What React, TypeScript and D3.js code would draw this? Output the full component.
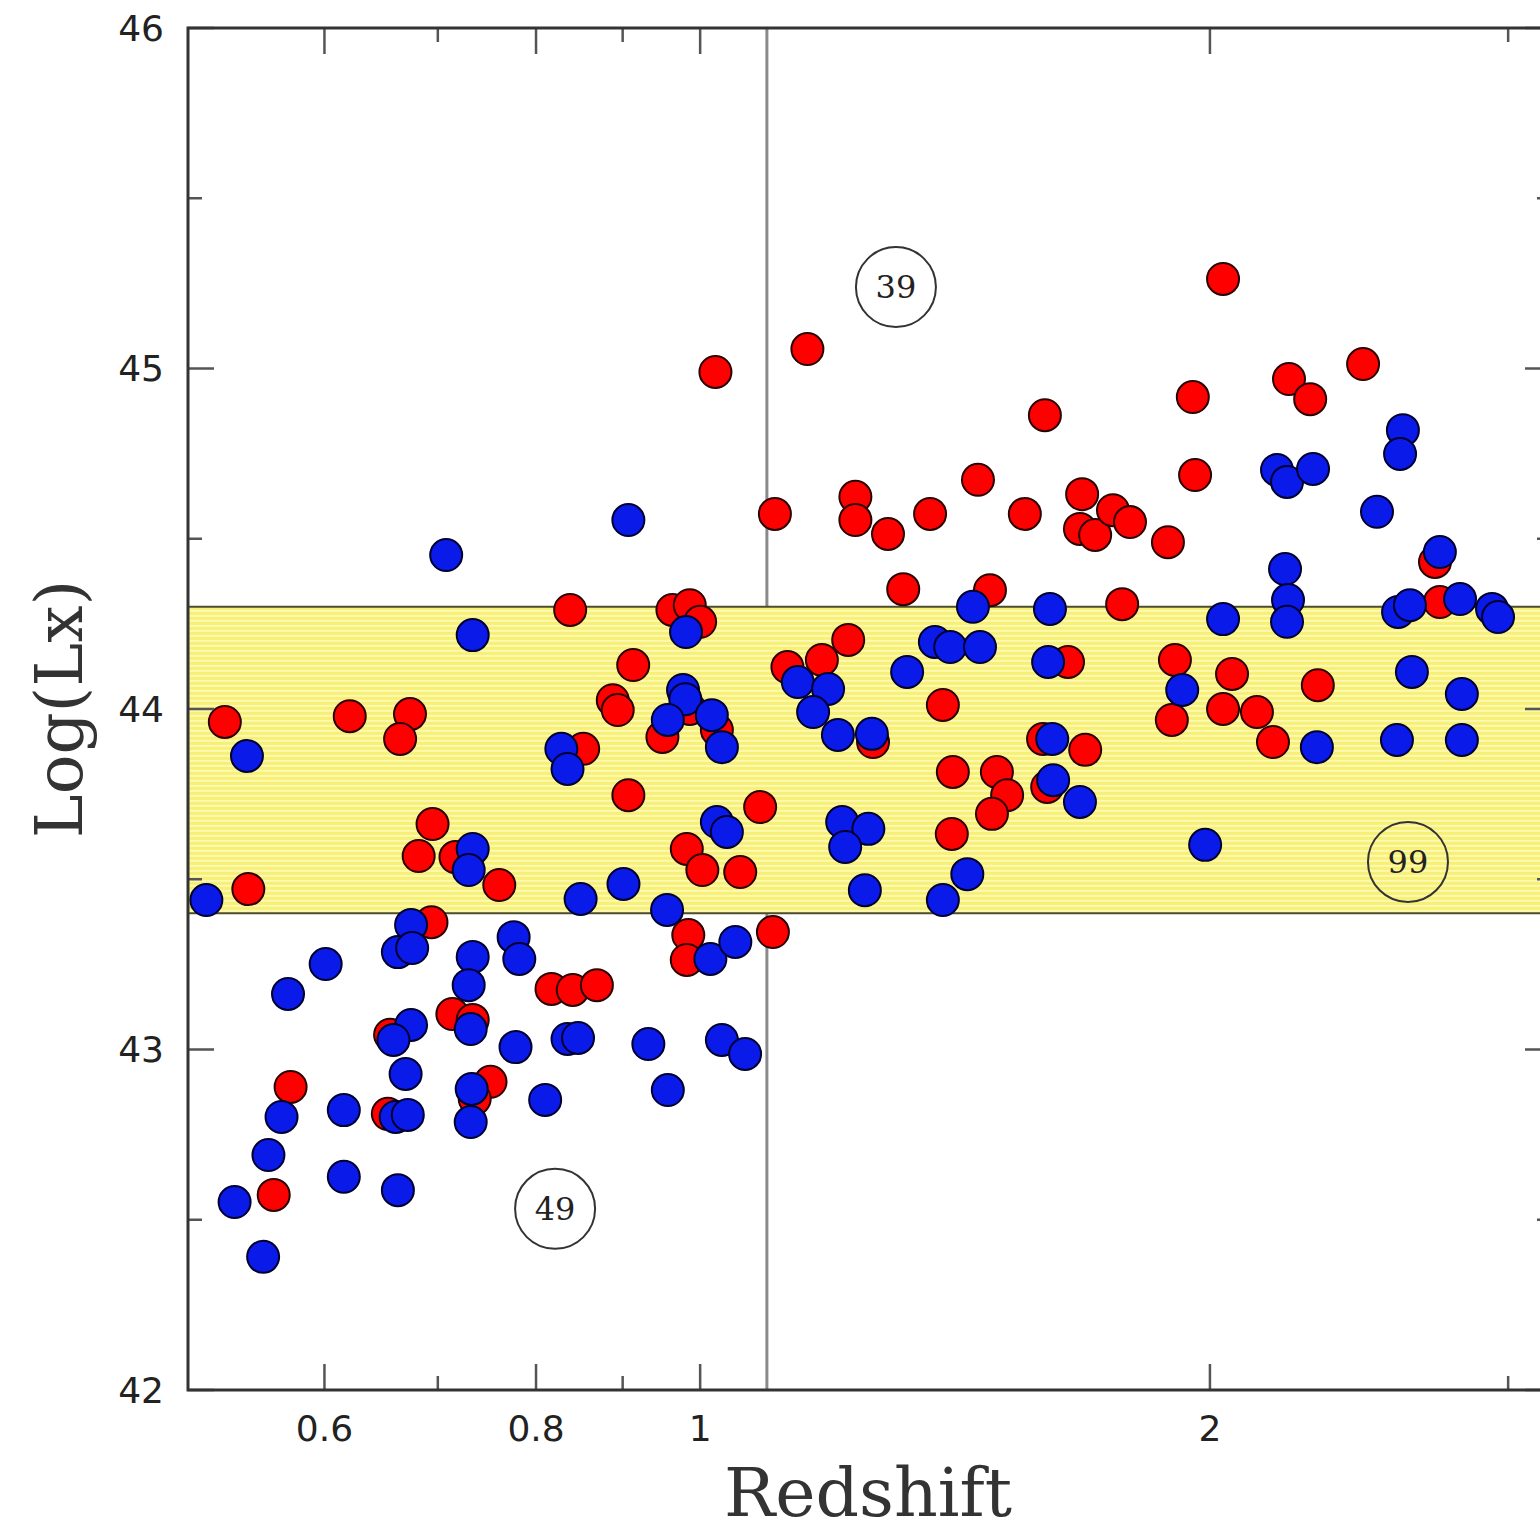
import React from 'react';
import * as d3 from 'd3';

const W = 1540;
const H = 1531;

// [redshift, log(Lx)]
const redPoints: [number, number][] = [
  [0.524, 43.962], [0.541, 43.471], [0.621, 43.979], [0.674, 43.985], [0.665, 43.912],
  [0.695, 43.662], [0.682, 43.568], [0.724, 43.562], [0.761, 43.483], [0.694, 43.374],
  [0.714, 43.104], [0.734, 43.087], [0.656, 43.043], [0.752, 42.905], [0.736, 42.855],
  [0.573, 42.890], [0.654, 42.811], [0.560, 42.573], [0.817, 43.178], [0.841, 43.175],
  [0.869, 43.189], [0.838, 44.291], [0.853, 43.883], [0.913, 44.129], [0.888, 44.026],
  [0.894, 43.997], [0.907, 43.747], [0.963, 44.291], [0.986, 44.305], [1.000, 44.256],
  [0.986, 44.000], [0.950, 43.918], [1.023, 43.938], [0.982, 43.589], [1.003, 43.527],
  [1.056, 43.521], [1.085, 43.712], [0.984, 43.336], [0.982, 43.263], [1.104, 43.345],
  [1.021, 44.990], [1.107, 44.573], [1.157, 45.057], [1.126, 44.123], [1.180, 44.144],
  [1.223, 44.203], [1.235, 44.623], [1.235, 44.555], [1.291, 44.514], [1.367, 44.573],
  [1.459, 44.673], [1.555, 44.573], [1.318, 44.352], [1.483, 44.349], [1.265, 43.903],
  [1.391, 44.012], [1.410, 43.815], [1.497, 43.815], [1.518, 43.747], [1.487, 43.692],
  [1.408, 43.633], [1.598, 44.863], [1.681, 44.631], [1.676, 44.529], [1.711, 44.511],
  [1.753, 44.584], [1.794, 44.549], [1.889, 44.490], [1.775, 44.308], [1.649, 44.138],
  [1.594, 43.912], [1.688, 43.880], [1.603, 43.771], [2.036, 45.263], [1.954, 44.916],
  [1.960, 44.687], [2.227, 44.969], [2.292, 44.910], [2.463, 45.013], [1.907, 44.144],
  [1.899, 43.968], [2.061, 44.103], [2.036, 44.000], [2.132, 43.991], [2.179, 43.903],
  [2.316, 44.070], [2.716, 44.432], [2.734, 44.314], [0.717, 43.565],
];

const bluePoints: [number, number][] = [
  [0.511, 43.439], [0.540, 43.862], [0.708, 44.452], [0.734, 44.217], [0.734, 43.589],
  [0.730, 43.527], [0.675, 43.366], [0.663, 43.286], [0.676, 43.298], [0.601, 43.251],
  [0.571, 43.163], [0.734, 43.272], [0.776, 43.330], [0.782, 43.266], [0.730, 43.189],
  [0.732, 43.060], [0.675, 43.072], [0.659, 43.028], [0.778, 43.007], [0.835, 43.031],
  [0.847, 43.034], [0.670, 42.928], [0.733, 42.884], [0.732, 42.787], [0.810, 42.852],
  [0.566, 42.802], [0.616, 42.822], [0.661, 42.802], [0.672, 42.808], [0.556, 42.690],
  [0.616, 42.626], [0.663, 42.587], [0.531, 42.552], [0.552, 42.391], [0.828, 43.883],
  [0.835, 43.824], [0.907, 44.555], [0.981, 44.226], [0.977, 44.056], [0.980, 44.029],
  [0.957, 43.968], [1.016, 43.982], [1.030, 43.888], [1.023, 43.668], [1.037, 43.639],
  [0.901, 43.486], [0.850, 43.442], [0.956, 43.410], [1.014, 43.266], [1.049, 43.316],
  [0.932, 43.016], [1.030, 43.028], [1.063, 42.987], [0.957, 42.881], [1.142, 44.079],
  [1.190, 44.059], [1.166, 43.991], [1.206, 43.924], [1.263, 43.927], [1.325, 44.109],
  [1.376, 44.197], [1.405, 44.182], [1.463, 44.182], [1.449, 44.300], [1.609, 44.294],
  [1.605, 44.138], [1.614, 43.912], [1.616, 43.791], [1.676, 43.727], [1.213, 43.668],
  [1.257, 43.648], [1.218, 43.595], [1.251, 43.468], [1.438, 43.515], [1.391, 43.439],
  [1.926, 44.056], [2.036, 44.264], [1.987, 43.601], [2.191, 44.702], [2.221, 44.667],
  [2.301, 44.705], [2.215, 44.411], [2.224, 44.320], [2.221, 44.256], [2.313, 43.888],
  [2.600, 44.819], [2.590, 44.749], [2.510, 44.579], [2.734, 44.461], [2.583, 44.285],
  [2.625, 44.305], [2.810, 44.323], [2.935, 44.294], [2.959, 44.270], [2.632, 44.109],
  [2.817, 44.044], [2.579, 43.909], [2.817, 43.909],
];

const xMajorTicks = [0.6, 0.8, 1, 2];
const xMinorTicks = [0.7, 0.9, 3];
const yMajorTicks = [42, 43, 44, 45, 46];
const yMinorTicks = [42.5, 43.5, 44.5, 45.5];

const bandRange: [number, number] = [43.4, 44.3];
const redshiftCut = 1.095;

const annotationLabels = ['39', '49', '99'];
const annotationZ = [1.305, 0.821, 2.618];
const annotationL = [45.239, 42.532, 43.551];

export default function App() {
  const left = 188, right = 1551, top = 28, bottom = 1390;
  const x = d3.scaleLog().domain([0.4984, 3.18]).range([left, right]);
  const y = d3.scaleLinear().domain([42, 46]).range([bottom, top]);

  const majorLen = 26;
  const minorLen = 14;
  const tickColor = '#555';
  const axisColor = '#333';
  const r = 16;

  return (
    <svg width={W} height={H} style={{ position: 'absolute', left: 0, top: 0, display: 'block', background: '#fff' }}>
      <defs>
        <pattern id="stripes" width={10} height={5} patternUnits="userSpaceOnUse" y={y(bandRange[1])}>
          <rect width={10} height={5} fill="#f8f074" />
          <rect y={3} width={10} height={2} fill="#fcf9b4" />
        </pattern>
        <clipPath id="plotclip">
          <rect x={left} y={top} width={right - left} height={bottom - top} />
        </clipPath>
      </defs>
      <rect x={0} y={0} width={W} height={H} fill="#fff" />

      {/* vertical redshift cut */}
      <line x1={x(redshiftCut)} x2={x(redshiftCut)} y1={top} y2={bottom} stroke="#8a8a8a" strokeWidth={3} />

      {/* luminosity band */}
      <rect x={left} y={y(bandRange[1])} width={right - left} height={y(bandRange[0]) - y(bandRange[1])} fill="url(#stripes)" />
      <line x1={left} x2={right} y1={y(bandRange[1])} y2={y(bandRange[1])} stroke="#4d4d30" strokeWidth={2} />
      <line x1={left} x2={right} y1={y(bandRange[0])} y2={y(bandRange[0])} stroke="#4d4d30" strokeWidth={2} />

      {/* annotations */}
      {annotationLabels.map((t, i) => (
        <g key={t}>
          <circle cx={x(annotationZ[i])} cy={y(annotationL[i])} r={40} fill="none" stroke="#333" strokeWidth={2} />
          <text x={x(annotationZ[i])} y={y(annotationL[i])} dy="0.35em" textAnchor="middle"
            fontFamily="DejaVu Serif" fontSize={32} fill="#222">{t}</text>
        </g>
      ))}

      {/* points */}
      <g clipPath="url(#plotclip)">
        {redPoints.map((d, i) => (
          <circle key={'r' + i} cx={x(d[0])} cy={y(d[1])} r={r} fill="#ff0000" stroke="#2a0000" strokeWidth={2} />
        ))}
        {bluePoints.map((d, i) => (
          <circle key={'b' + i} cx={x(d[0])} cy={y(d[1])} r={r} fill="#0a1ae8" stroke="#000030" strokeWidth={2} />
        ))}
      </g>

      {/* ticks */}
      {xMajorTicks.map(t => (
        <g key={'xM' + t}>
          <line x1={x(t)} x2={x(t)} y1={bottom} y2={bottom - majorLen} stroke={tickColor} strokeWidth={2.5} />
          <line x1={x(t)} x2={x(t)} y1={top} y2={top + majorLen} stroke={tickColor} strokeWidth={2.5} />
          <text x={x(t)} y={bottom + 38} dy="0.35em" textAnchor="middle" fontFamily="DejaVu Sans" fontSize={36} fill="#222">{t}</text>
        </g>
      ))}
      {xMinorTicks.map(t => (
        <g key={'xm' + t}>
          <line x1={x(t)} x2={x(t)} y1={bottom} y2={bottom - minorLen} stroke={tickColor} strokeWidth={2.5} />
          <line x1={x(t)} x2={x(t)} y1={top} y2={top + minorLen} stroke={tickColor} strokeWidth={2.5} />
        </g>
      ))}
      {yMajorTicks.map(t => (
        <g key={'yM' + t}>
          <line x1={left} x2={left + majorLen} y1={y(t)} y2={y(t)} stroke={tickColor} strokeWidth={2.5} />
          <line x1={right} x2={right - majorLen} y1={y(t)} y2={y(t)} stroke={tickColor} strokeWidth={2.5} />
          <text x={left - 24} y={y(t)} dy="0.35em" textAnchor="end" fontFamily="DejaVu Sans" fontSize={36} fill="#222">{t}</text>
        </g>
      ))}
      {yMinorTicks.map(t => (
        <g key={'ym' + t}>
          <line x1={left} x2={left + minorLen} y1={y(t)} y2={y(t)} stroke={tickColor} strokeWidth={2.5} />
          <line x1={right} x2={right - minorLen} y1={y(t)} y2={y(t)} stroke={tickColor} strokeWidth={2.5} />
        </g>
      ))}

      {/* frame */}
      <rect x={left} y={top} width={right - left} height={bottom - top} fill="none" stroke={axisColor} strokeWidth={3} />

      {/* axis labels */}
      <text x={868} y={1516} textAnchor="middle" fontFamily="DejaVu Serif" fontSize={68} fill="#333">Redshift</text>
      <text transform={`translate(82, ${y(44)}) rotate(-90)`} textAnchor="middle" fontFamily="DejaVu Serif" fontSize={66} fill="#333">Log(Lx)</text>
    </svg>
  );
}
